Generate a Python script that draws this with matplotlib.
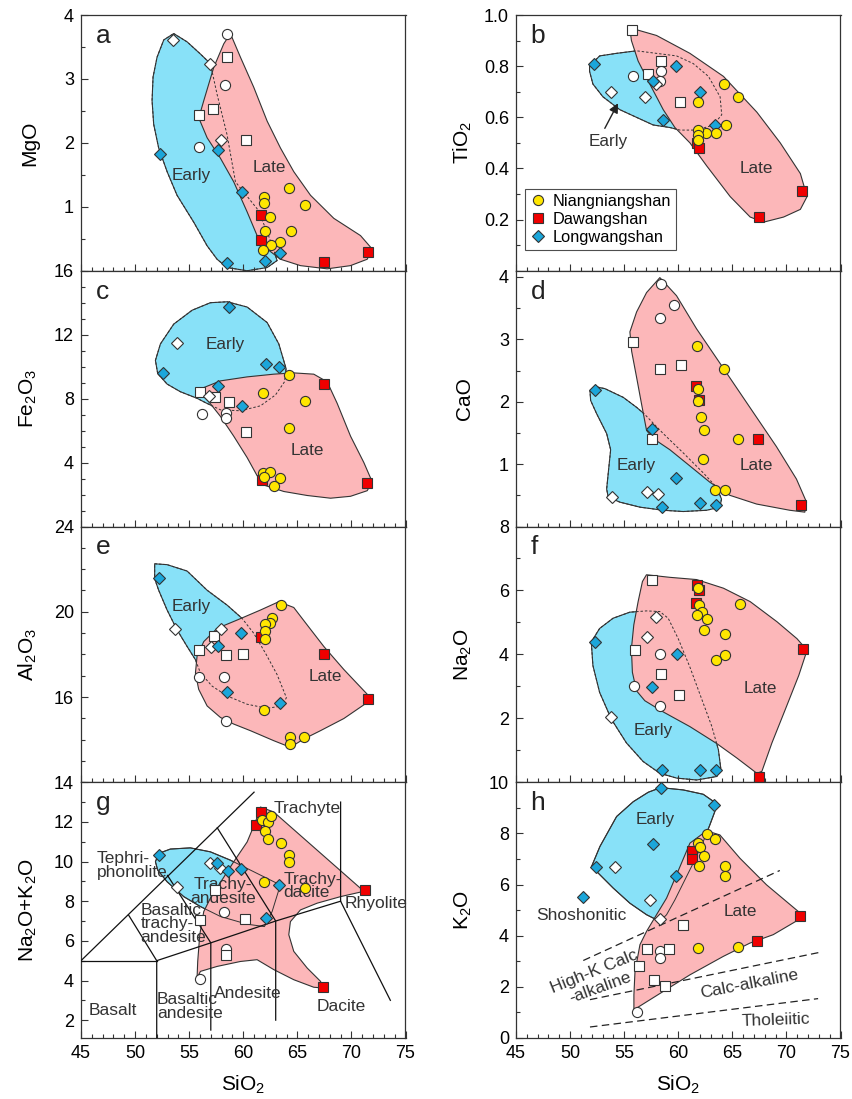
import matplotlib
matplotlib.use('Agg')
import matplotlib.pyplot as plt
from matplotlib.patches import Polygon
from matplotlib.lines import Line2D
from matplotlib.ticker import MultipleLocator

plt.rcParams['font.family'] = ['Liberation Sans', 'DejaVu Sans']
plt.rcParams['mathtext.fontset'] = 'custom'
plt.rcParams['mathtext.rm'] = 'Liberation Sans'
plt.rcParams['mathtext.it'] = 'Liberation Sans:italic'

# ---------------- data (SiO2, oxide) ----------------
# a  MgO
A_NIANG = [(61.93, 1.16), (61.93, 1.06), (62.45, 0.84), (64.24, 1.29), (65.69, 1.03), (64.46, 0.62),
           (61.99, 0.62), (63.38, 0.45), (62.55, 0.41), (61.87, 0.32)]
A_DAWANG = [(61.68, 0.87), (61.68, 0.48), (67.45, 0.13), (71.49, 0.30)]
A_LONGW = [(52.34, 1.82), (57.67, 1.89), (59.86, 1.23), (58.5, 0.12), (62.02, 0.15), (63.38, 0.28)]
A_OPEN_O = [(58.47, 3.71), (58.29, 2.91), (55.92, 1.94)]
A_OPEN_S = [(58.5, 3.34), (57.24, 2.53), (55.89, 2.44), (60.26, 2.04)]
A_OPEN_D = [(53.51, 3.61), (56.9, 3.24), (57.95, 2.05)]
A_EARLY = [(53.57, 3.71), (54.81, 3.58), (56.04, 3.39), (56.96, 3.24), (57.58, 2.76), (58.5, 2.13),
           (59.28, 1.39), (61.28, 0.97), (62.21, 0.61), (62.82, 0.32), (63.13, 0.16), (62.21, 0.05),
           (60.36, 0.0), (58.5, 0.05), (57.58, 0.18), (56.66, 0.39), (55.42, 0.76), (53.88, 1.18),
           (52.96, 1.55), (52.18, 1.92), (51.72, 2.29), (51.57, 2.66), (51.66, 3.03), (52.03, 3.34),
           (52.65, 3.61)]
A_LATE = [(58.81, 3.71), (59.74, 3.34), (60.97, 2.87), (62.21, 2.34), (63.44, 1.92), (64.67, 1.55),
          (66.22, 1.18), (68.37, 0.82), (70.84, 0.55), (71.92, 0.34), (71.46, 0.18), (69.91, 0.08),
          (67.76, 0.03), (65.29, 0.08), (63.44, 0.18), (62.21, 0.34), (61.28, 0.55), (60.36, 0.92),
          (59.12, 1.39), (57.89, 1.76), (56.66, 2.08), (55.89, 2.39), (56.35, 2.66), (57.27, 3.18),
          (58.2, 3.55)]

# b  TiO2
B_NIANG = [(64.27, 0.73), (65.57, 0.68), (61.8, 0.66), (64.39, 0.57), (63.5, 0.54), (62.57, 0.54),
           (61.8, 0.55), (61.8, 0.53), (61.8, 0.51)]
B_DAWANG = [(61.7, 0.50), (61.95, 0.48), (67.42, 0.21), (71.45, 0.31)]
B_LONGW = [(52.2, 0.81), (59.78, 0.80), (57.62, 0.74), (62.01, 0.70), (58.55, 0.59), (63.43, 0.57)]
B_OPEN_O = [(55.83, 0.76), (58.36, 0.78), (58.3, 0.74)]
B_OPEN_S = [(55.76, 0.94), (58.36, 0.82), (57.19, 0.77), (60.16, 0.66)]
B_OPEN_D = [(53.75, 0.70), (56.97, 0.68), (57.9, 0.73)]
B_EARLY = [(51.8, 0.80), (52.73, 0.84), (54.28, 0.85), (56.13, 0.86), (57.99, 0.85), (59.85, 0.84),
           (61.39, 0.81), (62.79, 0.76), (63.87, 0.68), (64.02, 0.61), (63.25, 0.57), (61.7, 0.55),
           (60.16, 0.55), (59.23, 0.56), (57.68, 0.57), (56.13, 0.60), (54.59, 0.63), (53.04, 0.68),
           (52.11, 0.73), (51.8, 0.78)]
B_LATE = [(55.52, 0.95), (57.99, 0.92), (61.08, 0.85), (64.18, 0.76), (67.27, 0.62), (69.43, 0.50),
          (71.29, 0.38), (71.91, 0.29), (71.29, 0.24), (69.74, 0.21), (67.89, 0.19), (66.65, 0.21),
          (64.8, 0.29), (62.63, 0.41), (61.08, 0.50), (59.69, 0.56), (58.61, 0.63), (57.37, 0.73),
          (56.29, 0.82), (55.67, 0.90)]

# c  Fe2O3
C_NIANG = [(64.27, 9.48), (61.87, 8.35), (65.72, 7.86), (64.21, 6.19), (61.87, 3.34), (62.51, 3.38),
           (61.96, 3.07), (63.44, 3.01), (62.82, 2.56)]
C_DAWANG = [(67.45, 8.91), (61.74, 2.91), (71.43, 2.70)]
C_LONGW = [(58.69, 13.73), (52.55, 9.61), (62.11, 10.19), (63.35, 9.98), (57.67, 8.78), (59.89, 7.55)]
C_OPEN_O = [(56.22, 7.03), (58.41, 7.1), (58.41, 6.8)]
C_OPEN_S = [(55.98, 8.43), (57.43, 8.08), (58.72, 7.77), (60.26, 5.9)]
C_OPEN_D = [(53.88, 11.46), (56.8, 8.16)]
C_EARLY = [(58.51, 14.06), (60.36, 13.73), (62.21, 12.76), (63.29, 11.42), (63.96, 9.88), (63.81, 9.05),
           (62.98, 8.23), (61.59, 7.55), (59.74, 7.24), (57.89, 7.30), (56.5, 7.75), (55.73, 8.02),
           (54.19, 8.43), (52.96, 8.91), (52.09, 9.57), (51.88, 10.39), (52.34, 11.42), (53.57, 12.66),
           (55.27, 13.53), (56.96, 14.0)]
C_LATE = [(55.79, 8.54), (57.89, 9.11), (60.36, 9.36), (62.82, 9.53), (64.67, 9.61), (66.52, 9.53),
          (67.76, 9.05), (68.68, 7.71), (69.92, 5.65), (71.15, 4.0), (71.92, 2.80), (71.46, 2.24),
          (69.92, 1.89), (68.07, 1.77), (65.91, 1.94), (63.75, 2.19), (62.05, 2.56), (61.28, 3.18),
          (60.36, 4.31), (59.12, 5.65), (57.89, 6.89), (56.81, 7.81)]

# d  CaO
D_NIANG = [(61.75, 2.90), (64.19, 2.53), (61.78, 2.20), (61.78, 2.01), (62.06, 1.76), (62.34, 1.54),
           (62.28, 1.08), (65.51, 1.40), (63.39, 0.59), (64.31, 0.59)]
D_DAWANG = [(61.66, 2.25), (61.91, 2.02), (67.36, 1.41), (71.39, 0.35)]
D_LONGW = [(52.27, 2.19), (57.57, 1.56), (59.78, 0.78), (62.0, 0.38), (63.48, 0.34), (58.49, 0.31)]
D_OPEN_O = [(58.37, 3.88), (59.63, 3.55), (58.3, 3.34)]
D_OPEN_S = [(55.84, 2.96), (58.34, 2.53), (60.21, 2.59), (57.53, 1.40)]
D_OPEN_D = [(53.87, 0.48), (57.07, 0.55), (58.09, 0.52)]
D_EARLY = [(51.84, 2.17), (52.39, 2.24), (53.22, 2.21), (54.92, 2.07), (56.15, 1.91), (56.83, 1.81),
           (58.61, 1.49), (60.46, 1.18), (62.31, 0.86), (63.54, 0.63), (64.0, 0.44), (63.85, 0.31),
           (62.62, 0.26), (60.46, 0.24), (58.61, 0.26), (56.46, 0.31), (54.61, 0.39), (53.53, 0.47),
           (53.38, 0.60), (53.53, 0.86), (53.75, 1.23), (53.38, 1.49), (52.45, 1.81), (51.9, 2.02)]
D_LATE = [(58.3, 3.99), (59.84, 3.70), (61.69, 3.17), (64.16, 2.54), (66.62, 1.91), (69.08, 1.28),
          (70.93, 0.76), (71.86, 0.39), (71.7, 0.23), (70.32, 0.26), (67.24, 0.36), (64.77, 0.50),
          (62.92, 0.71), (61.08, 0.97), (59.23, 1.23), (57.69, 1.41), (57.07, 1.54), (56.61, 1.96),
          (56.15, 2.39), (55.69, 2.81), (55.53, 3.12), (56.15, 3.44), (57.07, 3.75)]

# e  Al2O3
E_NIANG = [(63.47, 20.31), (62.64, 19.69), (62.48, 19.46), (61.99, 19.41), (61.99, 19.1), (61.99, 18.73),
           (61.9, 15.40), (64.3, 14.11), (64.3, 13.8), (65.66, 14.11)]
E_DAWANG = [(61.68, 18.81), (67.42, 18.03), (71.49, 15.89)]
E_LONGW = [(52.22, 21.58), (59.77, 19.02), (57.7, 18.37), (58.51, 16.23), (63.41, 15.74)]
E_OPEN_O = [(55.88, 16.95), (58.23, 16.95), (58.41, 14.87)]
E_OPEN_S = [(57.33, 18.84), (55.88, 18.19), (58.41, 17.98), (60.02, 18.02)]
E_OPEN_D = [(53.7, 19.19), (57.95, 19.19), (57.06, 18.33)]
E_EARLY = [(51.81, 22.25), (52.96, 22.21), (54.81, 21.91), (56.66, 21.01), (58.51, 20.31), (59.89, 19.69),
           (60.97, 18.99), (62.05, 18.06), (63.13, 17.05), (63.99, 15.97), (63.59, 15.58), (62.21, 15.47),
           (60.36, 15.66), (58.51, 16.05), (57.12, 16.51), (56.04, 17.13), (55.58, 17.75), (54.81, 18.37),
           (53.88, 19.15), (52.96, 20.08), (52.18, 21.01), (51.81, 21.55)]
E_LATE = [(63.28, 20.47), (64.67, 20.2), (65.91, 19.38), (67.45, 18.37), (69.3, 17.29), (71.61, 16.05),
          (71.46, 15.74), (69.3, 14.99), (67.14, 14.42), (65.6, 14.03), (64.36, 13.64), (62.82, 13.95),
          (60.66, 14.42), (59.12, 14.73), (57.89, 15.04), (56.66, 15.58), (55.88, 16.36), (55.58, 17.13),
          (55.73, 17.91), (56.35, 18.6), (57.58, 19.22), (59.43, 19.61), (61.59, 20.08)]

# f  Na2O
F_NIANG = [(61.8, 6.07), (61.95, 5.55), (62.17, 5.32), (61.7, 5.23), (62.69, 5.11), (62.41, 4.76),
           (65.75, 5.57), (64.36, 4.63), (64.33, 3.99), (63.5, 3.81)]
F_DAWANG = [(61.7, 6.18), (61.89, 6.02), (61.61, 5.6), (67.49, 0.16), (71.54, 4.18)]
F_LONGW = [(52.3, 4.39), (59.85, 4.02), (57.59, 2.97), (58.52, 0.39), (62.01, 0.39), (63.47, 0.39)]
F_OPEN_O = [(58.33, 4.02), (55.92, 3.02), (58.33, 2.37)]
F_OPEN_S = [(57.59, 6.34), (55.98, 4.13), (58.36, 3.39), (60.09, 2.73)]
F_OPEN_D = [(57.96, 5.16), (57.13, 4.55), (53.82, 2.05)]
F_EARLY = [(51.96, 4.39), (52.73, 4.81), (53.97, 5.13), (55.52, 5.32), (57.06, 5.36), (58.3, 5.34),
           (59.07, 5.13), (60.0, 4.49), (61.08, 3.6), (62.17, 2.6), (63.09, 1.76), (63.71, 1.02),
           (63.93, 0.44), (63.56, 0.18), (61.7, 0.07), (59.85, 0.13), (58.3, 0.28), (56.75, 0.65),
           (55.21, 1.23), (53.82, 1.97), (52.73, 2.81), (52.11, 3.65)]
F_LATE = [(57.06, 6.49), (59.23, 6.41), (61.7, 6.34), (64.18, 6.07), (66.65, 5.65), (69.13, 5.02),
          (70.98, 4.49), (71.91, 4.13), (71.14, 3.34), (69.9, 2.28), (68.66, 1.23), (67.73, 0.34),
          (67.27, 0.28), (65.41, 0.76), (63.56, 1.21), (61.08, 1.74), (58.61, 2.2), (56.91, 2.55),
          (56.14, 2.86), (55.76, 3.44), (55.67, 4.18), (55.89, 4.92), (56.29, 5.65), (56.69, 6.28)]

# g  Na2O+K2O (TAS)
G_NIANG = [(61.74, 12.08), (62.3, 11.97), (62.57, 12.3), (61.99, 11.53), (62.3, 11.13), (63.47, 10.94),
           (64.27, 10.32), (64.27, 9.96), (61.9, 8.98), (65.72, 8.65)]
G_DAWANG = [(61.68, 12.5), (61.22, 11.83), (71.3, 8.57), (67.33, 3.69)]
G_LONGW = [(52.25, 10.32), (57.58, 9.91), (58.6, 9.54), (59.77, 9.6), (63.29, 8.82), (62.11, 7.14)]
G_OPEN_O = [(58.2, 7.48), (58.44, 5.6), (56.04, 4.09)]
G_OPEN_S = [(57.43, 8.57), (56.04, 7.03), (60.2, 7.08), (58.44, 5.3)]
G_OPEN_D = [(56.9, 9.91), (57.83, 9.65), (53.88, 8.73)]
G_EARLY = [(51.88, 9.99), (52.18, 10.41), (53.26, 10.63), (55.11, 10.69), (56.96, 10.49), (58.81, 10.07),
           (60.66, 9.57), (63.13, 8.9), (63.29, 8.57), (62.67, 7.48), (61.96, 6.72), (60.36, 6.84),
           (57.89, 7.23), (56.04, 7.73), (54.5, 8.23), (52.96, 8.98), (52.09, 9.57)]
G_LATE = [(61.59, 12.75), (62.82, 12.5), (70.84, 8.65), (71.0, 8.48), (68.99, 8.23), (66.83, 7.9),
          (65.29, 7.56), (64.36, 6.97), (64.21, 6.31), (64.67, 5.47), (65.91, 4.63), (67.14, 3.96),
          (67.45, 3.62), (66.52, 3.66), (64.67, 4.04), (62.82, 4.55), (61.28, 5.05), (59.74, 4.96),
          (57.58, 4.71), (56.04, 4.46), (55.73, 4.13), (55.79, 4.96), (55.98, 6.31), (56.35, 7.48),
          (56.96, 8.15), (57.74, 8.82), (59.12, 9.99), (60.36, 10.99), (61.13, 12.0)]
TAS_LINES = [
    [(45, 5), (61, 13.5)],
    [(45, 5), (52, 5)],
    [(49.4, 7.3), (52, 5), (52, 1.1)],
    [(53, 9.3), (57, 5.9), (57, 1.5)],
    [(57.6, 11.7), (63, 7), (63, 2)],
    [(52, 5), (57, 5.9), (63, 7), (69, 8)],
    [(69, 13), (69, 8), (73.6, 3.0)],
]

# h  K2O
H_NIANG = [(62.65, 7.97), (63.42, 7.79), (61.82, 7.64), (62.0, 7.46), (62.37, 7.12), (61.94, 6.74),
           (64.31, 6.73), (64.31, 6.32), (61.78, 3.52), (65.48, 3.55)]
H_DAWANG = [(61.23, 7.32), (61.23, 6.99), (67.24, 3.78), (71.24, 4.78)]
H_LONGW = [(58.37, 9.77), (63.33, 9.11), (57.63, 7.58), (52.36, 6.67), (59.75, 6.32), (51.22, 5.53)]
H_OPEN_O = [(58.3, 3.42), (58.3, 3.13), (56.15, 1.02)]
H_OPEN_S = [(60.4, 4.4), (57.07, 3.49), (59.14, 3.49), (56.36, 2.8), (57.75, 2.28), (58.74, 2.04)]
H_OPEN_D = [(54.12, 6.68), (57.41, 5.38), (58.27, 4.65)]
H_EARLY = [(51.99, 6.71), (52.76, 7.49), (54.3, 8.66), (55.84, 9.24), (57.23, 9.61), (58.37, 9.79),
           (60.46, 9.7), (62.31, 9.53), (63.29, 9.24), (63.38, 8.85), (62.92, 8.33), (62.31, 7.68),
           (61.54, 6.97), (60.61, 6.18), (59.69, 5.4), (58.92, 4.82), (58.3, 4.56), (57.07, 4.82),
           (55.53, 5.27), (53.99, 5.86), (52.76, 6.38)]
H_LATE = [(61.08, 7.62), (62.62, 8.1), (63.85, 7.94), (65.7, 7.03), (68.16, 5.99), (71.09, 4.95),
          (71.39, 4.69), (68.78, 4.04), (66.62, 3.71), (64.16, 3.19), (61.08, 2.47), (58.61, 1.82),
          (56.15, 1.17), (55.9, 1.02), (55.9, 1.69), (56.0, 2.6), (56.46, 3.65), (57.07, 4.17),
          (57.99, 4.82), (58.92, 5.47), (59.84, 6.38), (60.62, 7.16)]
SERIES_LINES = [
    [(51.22, 3.03), (69.39, 6.55)],
    [(51.84, 1.50), (73.09, 3.35)],
    [(51.84, 0.43), (72.93, 1.54)],
]

# ---------------- styles ----------------
BLUE_FILL = '#88E1F8'
PINK_FILL = '#FCB7B9'
DIA_BLUE = '#1BA6DA'
YELLOW = '#FFE600'
RED = '#F00000'
EDGE = '#333333'
TXT = '#333333'

fig = plt.figure(figsize=(8.52, 10.99), dpi=100)

W = 324.5 / 852
H = 255.75 / 1099
XL = 81 / 852
XR = 516 / 852


def row_bottom(i):
    return (1099 - (15 + (i + 1) * 255.75)) / 1099


def make_ax(col, row, ylim, major, minor, ylabel, letter):
    ax = fig.add_axes([XL if col == 0 else XR, row_bottom(row), W, H])
    ax.set_xlim(45, 75)
    ax.set_ylim(*ylim)
    ax.xaxis.set_major_locator(MultipleLocator(5))
    ax.xaxis.set_minor_locator(MultipleLocator(1))
    ax.set_yticks(major)
    ax.yaxis.set_minor_locator(MultipleLocator(minor))
    ax.tick_params(which='both', direction='in', top=False, right=False, width=0.8, colors=EDGE,
                   labelcolor='black', labelsize=13)
    ax.tick_params(which='major', length=5, pad=5)
    ax.tick_params(which='minor', length=3)
    for s in ax.spines.values():
        s.set_color(EDGE)
        s.set_linewidth(0.9)
    if row < 3:
        ax.tick_params(labelbottom=False)
    else:
        ax.set_xlabel(r'SiO$_\mathregular{2}$', fontsize=15)
        ax.xaxis.set_label_coords(0.5, -0.14)
    ax.set_ylabel(ylabel, fontsize=15)
    ax.yaxis.set_label_coords(-0.13, 0.5)
    ax.text(0.045, 0.965, letter, transform=ax.transAxes, fontsize=19, ha='left', va='top', color='#222222')
    return ax


def fields(ax, early, late, inner_ls=(0, (2.5, 2))):
    ax.add_patch(Polygon(early, closed=True, fc=BLUE_FILL, ec=EDGE, lw=0.8, zorder=1, joinstyle='round'))
    ax.add_patch(Polygon(late, closed=True, fc=PINK_FILL, ec=EDGE, lw=0.8, zorder=2, joinstyle='round'))
    ax.add_patch(Polygon(early, closed=True, fill=False, ec=EDGE, lw=0.7, ls=inner_ls, zorder=2.5))


def points(ax, open_o, open_s, open_d, longw, dawang, niang):
    groups = [(open_o, 'o', 'white', 7.3), (open_s, 's', 'white', 7.6), (open_d, 'D', 'white', 6.2),
              (dawang, 's', RED, 7.6), (longw, 'D', DIA_BLUE, 6.2), (niang, 'o', YELLOW, 7.3)]
    for k, (pts, m, fc, ms) in enumerate(groups):
        xs = [p[0] for p in pts]
        ys = [p[1] for p in pts]
        ax.plot(xs, ys, ls='none', marker=m, mfc=fc, mec=EDGE, mew=0.8, ms=ms,
                zorder=5 + k * 0.1, clip_on=False)


def label(ax, x, y, s, **kw):
    kw.setdefault('fontsize', 12.3)
    kw.setdefault('ha', 'center')
    kw.setdefault('va', 'center')
    ax.text(x, y, s, color=TXT, zorder=4, **kw)


# a
ax = make_ax(0, 0, (0, 4), [1, 2, 3, 4], 0.5, 'MgO', 'a')
fields(ax, A_EARLY, A_LATE)
points(ax, A_OPEN_O, A_OPEN_S, A_OPEN_D, A_LONGW, A_DAWANG, A_NIANG)
label(ax, 55.2, 1.49, 'Early')
label(ax, 62.45, 1.62, 'Late')

# b
ax = make_ax(1, 0, (0, 1.0), [0.2, 0.4, 0.6, 0.8, 1.0], 0.1, r'TiO$_\mathregular{2}$', 'b')
fields(ax, B_EARLY, B_LATE)
points(ax, B_OPEN_O, B_OPEN_S, B_OPEN_D, B_LONGW, B_DAWANG, B_NIANG)
label(ax, 67.2, 0.40, 'Late')
ax.annotate('Early', xy=(54.43, 0.655), xytext=(53.5, 0.507), color=TXT, fontsize=12.3,
            ha='center', va='center', zorder=6,
            arrowprops=dict(arrowstyle='-|>', color='#222222', lw=1, mutation_scale=14,
                            relpos=(0.35, 1.0), shrinkA=2, shrinkB=0))
handles = [Line2D([], [], ls='none', marker='o', mfc=YELLOW, mec=EDGE, mew=0.8, ms=7.3),
           Line2D([], [], ls='none', marker='s', mfc=RED, mec=EDGE, mew=0.8, ms=7.6),
           Line2D([], [], ls='none', marker='D', mfc=DIA_BLUE, mec=EDGE, mew=0.8, ms=6.2)]
leg = ax.legend(handles, ['Niangniangshan', 'Dawangshan', 'Longwangshan'], loc='lower left',
                bbox_to_anchor=(0.028, 0.081), borderaxespad=0, fontsize=11.8, frameon=True,
                fancybox=False, edgecolor='#222222', handlelength=1.0, handletextpad=0.4,
                labelspacing=0.2, borderpad=0.3)
leg.get_frame().set_linewidth(0.8)
leg.set_zorder(10)

# c
ax = make_ax(0, 1, (0, 16), [4, 8, 12, 16], 1, r'Fe$_\mathregular{2}$O$_\mathregular{3}$', 'c')
fields(ax, C_EARLY, C_LATE)
points(ax, C_OPEN_O, C_OPEN_S, C_OPEN_D, C_LONGW, C_DAWANG, C_NIANG)
label(ax, 58.35, 11.38, 'Early')
label(ax, 65.9, 4.78, 'Late')

# d
ax = make_ax(1, 1, (0, 4.1), [1, 2, 3, 4], 0.5, 'CaO', 'd')
fields(ax, D_EARLY, D_LATE)
points(ax, D_OPEN_O, D_OPEN_S, D_OPEN_D, D_LONGW, D_DAWANG, D_NIANG)
label(ax, 56.15, 0.98, 'Early')
label(ax, 67.24, 0.98, 'Late')

# e
ax = make_ax(0, 2, (12, 24), [16, 20, 24], 1, r'Al$_\mathregular{2}$O$_\mathregular{3}$', 'e')
fields(ax, E_EARLY, E_LATE)
points(ax, E_OPEN_O, E_OPEN_S, E_OPEN_D, E_LONGW, E_DAWANG, E_NIANG)
label(ax, 55.2, 20.26, 'Early')
label(ax, 67.6, 16.98, 'Late')

# f
ax = make_ax(1, 2, (0, 8), [2, 4, 6, 8], 1, r'Na$_\mathregular{2}$O', 'f')
fields(ax, F_EARLY, F_LATE)
points(ax, F_OPEN_O, F_OPEN_S, F_OPEN_D, F_LONGW, F_DAWANG, F_NIANG)
label(ax, 57.68, 1.63, 'Early')
label(ax, 67.58, 2.94, 'Late')

# g
ax = make_ax(0, 3, (1.1, 14), [2, 4, 6, 8, 10, 12, 14], 1,
             r'Na$_\mathregular{2}$O+K$_\mathregular{2}$O', 'g')
fields(ax, G_EARLY, G_LATE, inner_ls='-')
for line in TAS_LINES:
    ax.plot([p[0] for p in line], [p[1] for p in line], color='#111111', lw=0.9, zorder=3)
points(ax, G_OPEN_O, G_OPEN_S, G_OPEN_D, G_LONGW, G_DAWANG, G_NIANG)
tas_kw = dict(fontsize=12.5, ha='left', linespacing=0.9)
label(ax, 46.48, 9.81, 'Tephri-\nphonolite', **tas_kw)
label(ax, 58.14, 8.48, 'Trachy-\nandesite', fontsize=12.5, linespacing=0.9)
label(ax, 63.69, 8.77, 'Trachy-\ndacite', **tas_kw)
label(ax, 62.82, 12.7, 'Trachyte', **tas_kw)
label(ax, 69.39, 7.9, 'Rhyolite', **tas_kw)
label(ax, 50.49, 6.86, 'Basaltic\ntrachy-\nandesite', **tas_kw)
label(ax, 57.27, 3.34, 'Andesite', **tas_kw)
label(ax, 45.71, 2.5, 'Basalt', **tas_kw)
label(ax, 52.03, 2.69, 'Basaltic\nandesite', **tas_kw)
label(ax, 66.77, 2.67, 'Dacite', **tas_kw)

# h
ax = make_ax(1, 3, (0, 10), [0, 2, 4, 6, 8, 10], 1, r'K$_\mathregular{2}$O', 'h')
fields(ax, H_EARLY, H_LATE, inner_ls='-')
for line in SERIES_LINES:
    ax.plot([p[0] for p in line], [p[1] for p in line], color='#222222', lw=0.9, ls=(0, (6, 3.5)), zorder=3)
points(ax, H_OPEN_O, H_OPEN_S, H_OPEN_D, H_LONGW, H_DAWANG, H_NIANG)
label(ax, 57.9, 8.53, 'Early')
label(ax, 65.76, 4.95, 'Late')
label(ax, 51.07, 4.78, 'Shoshonitic', fontsize=12.5)
label(ax, 52.21, 2.6, 'High-K Calc', fontsize=12.5, rotation=22)
label(ax, 52.76, 1.95, '-alkaline', fontsize=12.5, rotation=20)
label(ax, 66.56, 2.11, 'Calc-alkaline', fontsize=12.5, rotation=11)
label(ax, 69.02, 0.68, 'Tholeiitic', fontsize=12.5, rotation=2)

fig.savefig('out.png', dpi=100)
